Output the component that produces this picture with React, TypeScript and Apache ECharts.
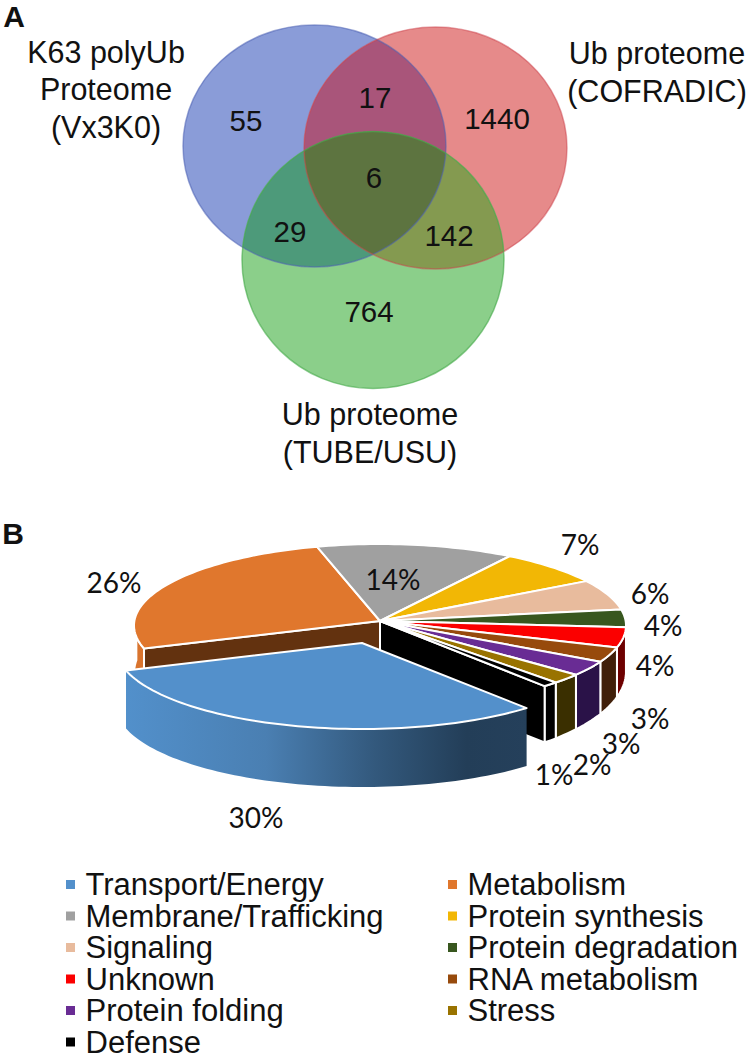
import React, { useEffect, useRef } from "react";
import * as echarts from "echarts";

// ---- data ----
const categories = ["Transport/Energy", "Metabolism", "Membrane/Trafficking", "Protein synthesis", "Signaling", "Protein degradation", "Unknown", "RNA metabolism", "Protein folding", "Stress", "Defense"];
const percents = [30, 26, 14, 7, 6, 4, 4, 3, 3, 2, 1];
const vennCounts = ["55", "17", "1440", "6", "29", "142", "764"];
const vennSetNames = ["K63 polyUb\nProteome\n(Vx3K0)", "Ub proteome\n(COFRADIC)", "Ub proteome\n(TUBE/USU)"];

// ---- styling / layout ----
const topColors = ["#5390cb", "#e0772d", "#a0a0a0", "#f2b705", "#e8bb9d", "#38571f", "#fb0000", "#974a0c", "#692c94", "#997300", "#000000"];
const sideColors = ["#4f8bc5", "#d9742e", "#808080", "#a07a00", "#a08060", "#25380f", "#6e0000", "#41200a", "#2a1248", "#3a2f00", "#000000"];
const FONT = "'Liberation Sans', Arial, sans-serif";
const PCT_FONT = "Lato, 'Open Sans', sans-serif";
const pie = { apexX: 380, apexY: 621, cx: 380, cy: 625.5, rx: 246, ry: 81.5, start: 48 };
const exploded = { dx: -18, dy: 22, depth: 58 };
const pctLabelAt = [[256, 817], [114, 582], [393, 579], [580, 544], [650, 593], [663, 625], [655, 665], [650, 718], [621, 743], [592, 764], [554, 774]];
const vennEllipses = [
  { cx: 314.5, cy: 146, rx: 131.5, ry: 121, fill: "#8a9cd8", stroke: "rgba(80,100,180,0.55)" },
  { cx: 435.5, cy: 148, rx: 131.5, ry: 121, fill: "#e68a8a", stroke: "rgba(205,70,80,0.5)" },
  { cx: 373, cy: 260, rx: 131, ry: 128.5, fill: "#8bcf8a", stroke: "rgba(70,170,75,0.6)" },
];
const vennOverlaps = [
  { sets: [0, 1], fill: "#a9557a" },
  { sets: [0, 2], fill: "#4d9a7a" },
  { sets: [1, 2], fill: "#849a50" },
  { sets: [0, 1, 2], fill: "#5d7440" },
];
const vennCountAt = [[246, 120], [375, 97], [497, 118], [374, 177], [290, 231], [449, 235], [369, 311]];
const vennNameAt = [[106, 89], [657, 72], [370, 433]];

const rad = (d: number) => (d * Math.PI) / 180;

// perspective correction of the rim angle: the view stretches the near-left part of the rim
function warp(t: number) {
  if (t >= pie.start && t <= 300) return 7 * Math.sin((Math.PI * (t - pie.start)) / (300 - pie.start)) + (1.8 * (t - pie.start)) / (300 - pie.start);
  if (t > 300 && t <= 350) return 1.8;
  if (t > 350 && t < 360) return (1.8 * (360 - t)) / 10;
  return 0;
}
function topPoint(t: number) {
  const v = t + warp(t);
  return [pie.cx + pie.rx * Math.cos(rad(v)), pie.cy + pie.ry * Math.sin(rad(v))];
}
function wallDepth(t: number) {
  return 46 + 14 * Math.max(Math.sin(rad(t)), 0);
}
function range(a: number, b: number, step = 1.5) {
  const out: number[] = [];
  for (let t = a; t < b; t += step) out.push(t);
  out.push(b);
  return out;
}
function bounds(i: number) {
  const before = percents.slice(0, i).reduce((s, v) => s + v, 0);
  return [pie.start + before * 3.6, pie.start + (before + percents[i]) * 3.6];
}

function polygon(points: number[][], fill: any, z2: number, stroke = "#ffffff", lineWidth = 2) {
  return { type: "polygon", z2, shape: { points }, style: { fill, stroke, lineWidth, lineJoin: "round" } };
}

function sliceRender(i: number) {
  const [a, b] = bounds(i);
  const children: any[] = [];
  if (i === 0) {
    const arc = range(a, b).map((t) => {
      const p = topPoint(t);
      return [p[0] + exploded.dx, p[1] + exploded.dy];
    });
    const side = [...arc, ...[...arc].reverse().map((p) => [p[0], p[1] + exploded.depth])];
    const grad = new echarts.graphic.LinearGradient(0, 0, 1, 0, [
      { offset: 0, color: "#5290cb" },
      { offset: 0.35, color: "#4a7fb2" },
      { offset: 0.62, color: "#33597d" },
      { offset: 0.85, color: "#233e58" },
      { offset: 1, color: "#25405b" },
    ]);
    children.push({ type: "polygon", z2: 40, shape: { points: side }, style: { fill: grad, stroke: "none" } });
    children.push(polygon([[pie.apexX + exploded.dx, pie.apexY + exploded.dy], ...arc], topColors[0], 41));
    return { type: "group", children };
  }
  // outer wall: only the near half of the rim is visible
  for (const [lo, hi] of [[a, b], [a - 360, b - 360]]) {
    const from = Math.max(lo, 0);
    const to = Math.min(hi, 180);
    if (to > from) {
      const ts = range(from, to);
      const arc = ts.map(topPoint);
      const low = ts.map((t, k) => [arc[k][0], arc[k][1] + wallDepth(t)]).reverse();
      children.push(polygon([...arc, ...low], sideColors[i], 10));
    }
  }
  // inner cut walls next to the pulled-out slice
  if (i === 1) {
    const p = topPoint(a);
    const d = wallDepth(a);
    children.push(polygon([[pie.apexX, pie.apexY], p, [p[0], p[1] + d], [pie.apexX, pie.apexY + d]], "#63320f", 20));
  }
  if (i === percents.length - 1) {
    const p = topPoint(b - 360);
    const d = wallDepth(b - 360);
    children.push(polygon([[pie.apexX, pie.apexY], p, [p[0], p[1] + d], [pie.apexX, pie.apexY + d]], "#000000", 20));
  }
  const rim = range(a, b).map((t) => topPoint(t >= 360 ? t - 360 : t));
  children.push(polygon([[pie.apexX, pie.apexY], ...rim], topColors[i], 30));
  return { type: "group", children };
}

function inEllipse(p: number[], e: any) {
  return ((p[0] - e.cx) / e.rx) ** 2 + ((p[1] - e.cy) / e.ry) ** 2 <= 1.00001;
}
function intersection(sets: number[]) {
  const pts: number[][] = [];
  for (const s of sets) {
    const e = vennEllipses[s];
    for (let k = 0; k < 1440; k++) {
      const p = [e.cx + e.rx * Math.cos(rad(k / 4)), e.cy + e.ry * Math.sin(rad(k / 4))];
      if (sets.every((o) => o === s || inEllipse(p, vennEllipses[o]))) pts.push(p);
    }
  }
  const mx = pts.reduce((v, p) => v + p[0], 0) / pts.length;
  const my = pts.reduce((v, p) => v + p[1], 0) / pts.length;
  return pts.sort((p, q) => Math.atan2(p[1] - my, p[0] - mx) - Math.atan2(q[1] - my, q[0] - mx));
}

function vennRender() {
  const children: any[] = [];
  vennEllipses.forEach((e) => {
    children.push({ type: "ellipse", z2: 1, shape: { cx: e.cx, cy: e.cy, rx: e.rx, ry: e.ry }, style: { fill: e.fill, stroke: "none" } });
  });
  vennOverlaps.forEach((o) => {
    children.push({ type: "polygon", z2: 2, shape: { points: intersection(o.sets) }, style: { fill: o.fill, stroke: "none" } });
  });
  vennEllipses.forEach((e) => {
    children.push({ type: "ellipse", z2: 3, shape: { cx: e.cx, cy: e.cy, rx: e.rx, ry: e.ry }, style: { fill: "none", stroke: e.stroke, lineWidth: 1.5 } });
  });
  return { type: "group", children };
}

const text = (s: string, x: number, y: number, font: string, size: number, extra: any = {}) => ({
  type: "text",
  x,
  y,
  z: 100,
  style: { text: s, fill: "#111111", font: `${extra.weight || "normal"} ${size}px ${font}`, fontFamily: font, fontSize: size, fontWeight: extra.weight || "normal", textAlign: "center", textVerticalAlign: "middle", lineHeight: extra.lineHeight },
});

const legendBase = {
  orient: "vertical",
  icon: "rect",
  itemWidth: 9,
  itemHeight: 9,
  itemGap: 0.5,
  selectedMode: false,
  padding: 0,
  height: 240,
  textStyle: { fontFamily: FONT, fontSize: 31, lineHeight: 31, color: "#111111", padding: [0, 0, 0, 5.5] },
};

export default function App() {
  const ref = useRef<HTMLDivElement>(null);
  useEffect(() => {
    const chart = echarts.init(ref.current!, undefined, { renderer: "svg" });
    chart.setOption({
      animation: false,
      backgroundColor: "#ffffff",
      legend: [
        { ...legendBase, left: 66, top: 869, data: categories.filter((_, i) => i % 2 === 0) },
        { ...legendBase, left: 448, top: 869, data: categories.filter((_, i) => i % 2 === 1) },
      ],
      series: [
        { type: "custom", name: "Venn", coordinateSystem: "none", silent: true, data: [[0]], renderItem: () => vennRender() },
        ...categories.map((name, i) => ({
          type: "custom",
          name,
          coordinateSystem: "none",
          silent: true,
          itemStyle: { color: topColors[i] },
          data: [[percents[i]]],
          renderItem: () => sliceRender(i),
        })),
      ],
      graphic: {
        elements: [
          text("A", 14, 16, FONT, 30, { weight: "bold" }),
          text("B", 13, 533, FONT, 30, { weight: "bold" }),
          ...vennCounts.map((c, i) => text(c, vennCountAt[i][0], vennCountAt[i][1], FONT, 29.5)),
          ...vennSetNames.map((n, i) => text(n, vennNameAt[i][0], vennNameAt[i][1], FONT, 30.5, { lineHeight: 37.5 })),
          ...percents.map((p, i) => text(`${p}%`, pctLabelAt[i][0], pctLabelAt[i][1], PCT_FONT, 28)),
        ],
      },
    });
    return () => chart.dispose();
  }, []);
  return <div ref={ref} style={{ position: "absolute", left: 0, top: 0, width: 749, height: 1056 }} />;
}
